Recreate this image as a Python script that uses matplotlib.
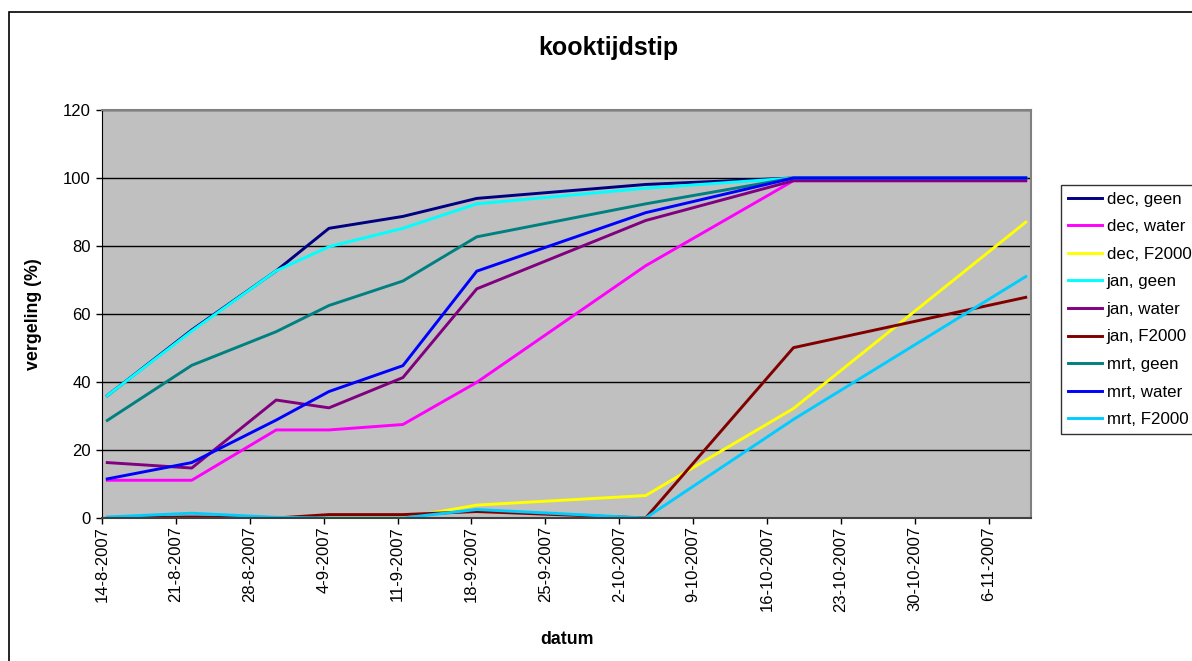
import matplotlib
matplotlib.use("Agg")
import matplotlib.pyplot as plt
import matplotlib.transforms as mtransforms
from matplotlib.patches import Rectangle
import pandas as pd
import datetime as dt

plt.rcParams['font.family'] = ['Liberation Sans', 'DejaVu Sans']

# meetdata
dates = ["2007-08-14", "2007-08-22", "2007-08-30", "2007-09-04", "2007-09-11",
         "2007-09-18", "2007-10-04", "2007-10-18", "2007-11-09"]

dec_geen   = [36, 55.3, 72.7, 85.2, 88.7, 94.0, 98.1, 100, 100]
dec_water  = [11.1, 11.1, 25.9, 25.9, 27.5, 39.9, 74.2, 99.2, 99.2]
dec_f2000  = [0, 0, 0, 0, 0, 3.8, 6.6, 32.2, 87.0]
jan_geen   = [36, 55.0, 72.7, 79.8, 85.2, 92.4, 97.0, 100, 100]
jan_water  = [16.3, 14.7, 34.7, 32.4, 41.3, 67.4, 87.5, 99.2, 99.2]
jan_f2000  = [0, 0.3, 0, 1.0, 1.0, 1.9, 0, 50.1, 64.9]
mrt_geen   = [28.7, 44.9, 54.8, 62.5, 69.7, 82.7, 92.4, 100, 100]
mrt_water  = [11.5, 16.3, 28.8, 37.2, 44.8, 72.6, 89.8, 100, 100]
mrt_f2000  = [0.3, 1.4, 0.2, 0, 0, 2.5, 0, 29.0, 71.0]

labels = ["dec, geen", "dec, water", "dec, F2000",
          "jan, geen", "jan, water", "jan, F2000",
          "mrt, geen", "mrt, water", "mrt, F2000"]
series = [dec_geen, dec_water, dec_f2000, jan_geen, jan_water, jan_f2000,
          mrt_geen, mrt_water, mrt_f2000]
colors = ["#000080", "#FF00FF", "#FFFF00", "#00FFFF", "#800080", "#800000",
          "#008080", "#0000FF", "#00CCFF"]

W, H = 1192, 661
fig = plt.figure(figsize=(W / 100, H / 100), dpi=100)
ax = fig.add_axes([102 / W, 1 - 518 / H, (1031 - 102) / W, (518 - 110) / H])
ax.set_facecolor("#C0C0C0")

# excel zet punten midden op de dag
x = pd.to_datetime(dates) + pd.Timedelta(hours=12)
for y, lab, c in zip(series, labels, colors):
    ax.plot(x, y, color=c, lw=2.1, label=lab)

ax.set_ylim(0, 120)
ax.set_yticks(range(0, 121, 20))
ax.set_xlim(dt.datetime(2007, 8, 14), dt.datetime(2007, 11, 10))
ticks = pd.date_range("2007-08-14", "2007-11-06", freq="7D")
ax.set_xticks(ticks)
ax.set_xticklabels([f"{d.day}-{d.month}-{d.year}" for d in ticks], rotation=90, va="top", ha="center")
# labels staan midden op de dag, niet op de streep
shift = mtransforms.ScaledTranslation(5 / 100, 0, fig.dpi_scale_trans)
for lbl in ax.get_xticklabels():
    lbl.set_transform(lbl.get_transform() + shift)

ax.grid(axis="y", color="black", lw=1)
ax.set_axisbelow(True)
ax.tick_params(axis="both", direction="out", length=4, width=1, labelsize=12, colors="black")
ax.tick_params(axis="x", pad=2)
ax.tick_params(axis="y", pad=4)
for s in ["top", "right"]:
    ax.spines[s].set_color("#808080")
    ax.spines[s].set_linewidth(1.5)
ax.spines["left"].set_color("black")
ax.spines["bottom"].set_color("#404040")
ax.spines["bottom"].set_linewidth(1.5)

fig.text(608 / W, 1 - 48 / H, "kooktijdstip", ha="center", va="center", fontsize=18, fontweight="bold")
fig.text(33 / W, 1 - 314 / H, "vergeling (%)", ha="center", va="center", rotation=90, fontsize=12.8, fontweight="bold")
fig.text(567 / W, 1 - 640 / H, "datum", ha="center", va="center", fontsize=12.8, fontweight="bold")

leg = fig.legend(loc="upper left", bbox_to_anchor=(1061 / W, 1 - 185 / H), fontsize=12.2,
                 frameon=True, fancybox=False, handlelength=2.0, handletextpad=0.3,
                 labelspacing=0.74, borderpad=0.4, borderaxespad=0)
leg.get_frame().set_edgecolor("black")
leg.get_frame().set_linewidth(1)

# rand om de hele grafiek
fig.add_artist(Rectangle((9 / W, -0.1), 1.2, 1.1 - 12 / H, transform=fig.transFigure,
                         fill=False, edgecolor="black", lw=1.2))

fig.savefig("out.png", dpi=100)
